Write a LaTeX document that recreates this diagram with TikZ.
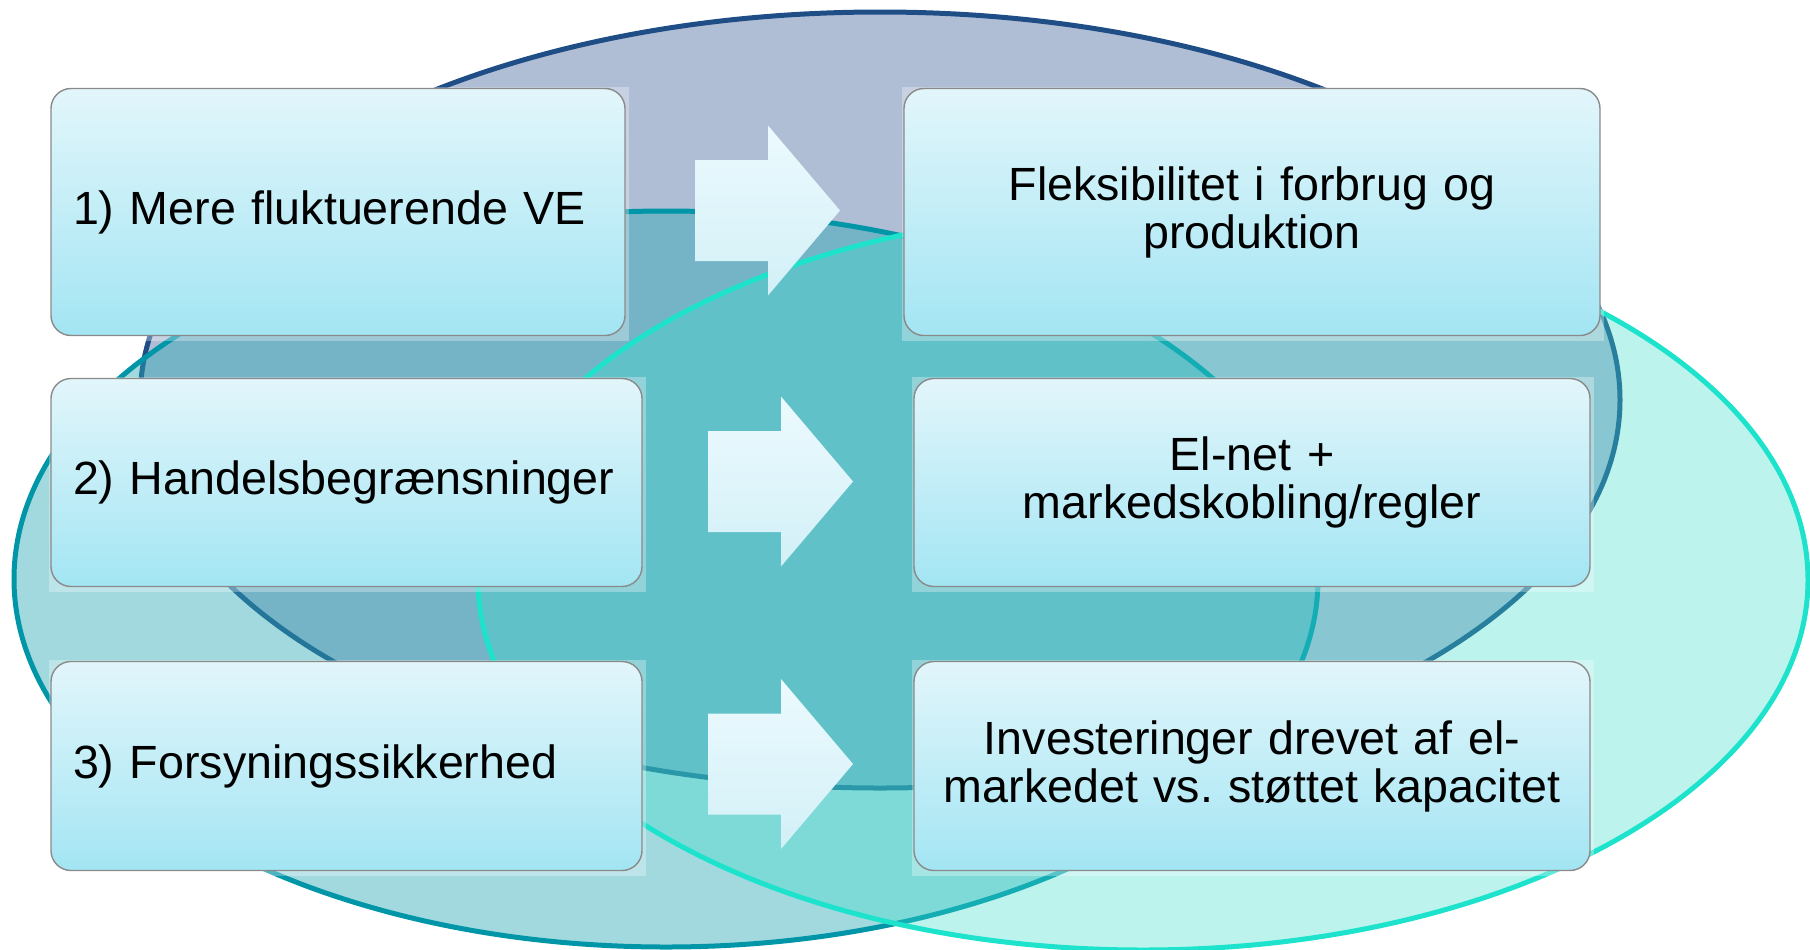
\documentclass[tikz,border=0pt]{standalone}
\usepackage{fontspec}
\setmainfont{Liberation Sans}
\usetikzlibrary{backgrounds}
\definecolor{navyline}{HTML}{1F4E86}
\definecolor{navyfill}{HTML}{4A6A9E}
\definecolor{tealline}{HTML}{0096A8}
\definecolor{tealfill}{HTML}{2AA8B4}
\definecolor{turqline}{HTML}{1DE2CC}
\definecolor{turqfill}{HTML}{3CDCCB}
\definecolor{boxline}{HTML}{8A8A8A}
\definecolor{boxtop}{HTML}{E2F6FB}
\definecolor{boxbot}{HTML}{A3E5F3}
\definecolor{arrtop}{HTML}{ECFAFE}
\definecolor{arrbot}{HTML}{D2F0F7}
\frenchspacing
\begin{document}
\begin{tikzpicture}[x=0.5pt,y=-0.5pt,
  ell/.style={line width=2.5pt},
  box/.style={draw=boxline, line width=0.7pt, rounded corners=10pt,
    top color=boxtop, bottom color=boxbot,
    font=\fontsize{23.3pt}{24pt}\selectfont, inner ysep=0pt},
  lbox/.style={box, align=left, inner xsep=11pt},
  rbox/.style={box, align=center, inner xsep=9pt},
  halo/.style={fill=white, fill opacity=0.3},
  barrow/.style={top color=arrtop, bottom color=arrbot, draw=none}]
\useasboundingbox (0,0) rectangle (1810,949);
\begin{scope}[on background layer]
  \draw[ell, draw=navyline, fill=navyfill, fill opacity=.44] (880,400) ellipse [x radius=740, y radius=388];
  \draw[ell, draw=tealline, fill=tealfill, fill opacity=.44] (666,579) ellipse [x radius=652, y radius=368];
  \draw[ell, draw=turqline, fill=turqfill, fill opacity=.34] (1143,580) ellipse [x radius=665, y radius=370];
\end{scope}

\node[lbox, text width=265pt, minimum height=123.5pt] (l1) at (338,212) {1) Mere fluktuerende VE};
\node[lbox, text width=273.5pt, minimum height=104pt] (l2) at (346.5,482.5) {2) Handelsbegrænsninger};
\node[lbox, text width=273.5pt, minimum height=104.5pt] (l3) at (346.5,766) {3) Forsyningssikkerhed};

\node[rbox, text width=330pt, minimum height=123.5pt] (r1) at (1252,212) {Fleksibilitet i forbrug og\\produktion};
\node[rbox, text width=320pt, minimum height=104pt] (r2) at (1252,482.5) {El-net +\\markedskobling/regler};
\node[rbox, text width=320pt, minimum height=104.5pt] (r3) at (1252,766) {Investeringer drevet af el-\\markedet vs. støttet kapacitet};

\begin{scope}[on background layer]
  \foreach \b in {l1,l2,l3,r1,r2,r3}{
    \fill[halo] ([shift={(-0.5pt,0.5pt)}]\b.north west) rectangle ([shift={(1.5pt,-2.5pt)}]\b.south east);
  }
\end{scope}

\coordinate (a1) at (695,210.5);
\coordinate (a2) at (708,481.5);
\coordinate (a3) at (708,764);
\foreach \a in {a1,a2,a3}{
  \shade[barrow] (\a) ++(0,-50.5) -- ++(73,0) -- ++(0,-34.5) -- ++(72,85)
    -- ++(-72,85) -- ++(0,-34.5) -- ++(-73,0) -- cycle;
}
\end{tikzpicture}
\end{document}
